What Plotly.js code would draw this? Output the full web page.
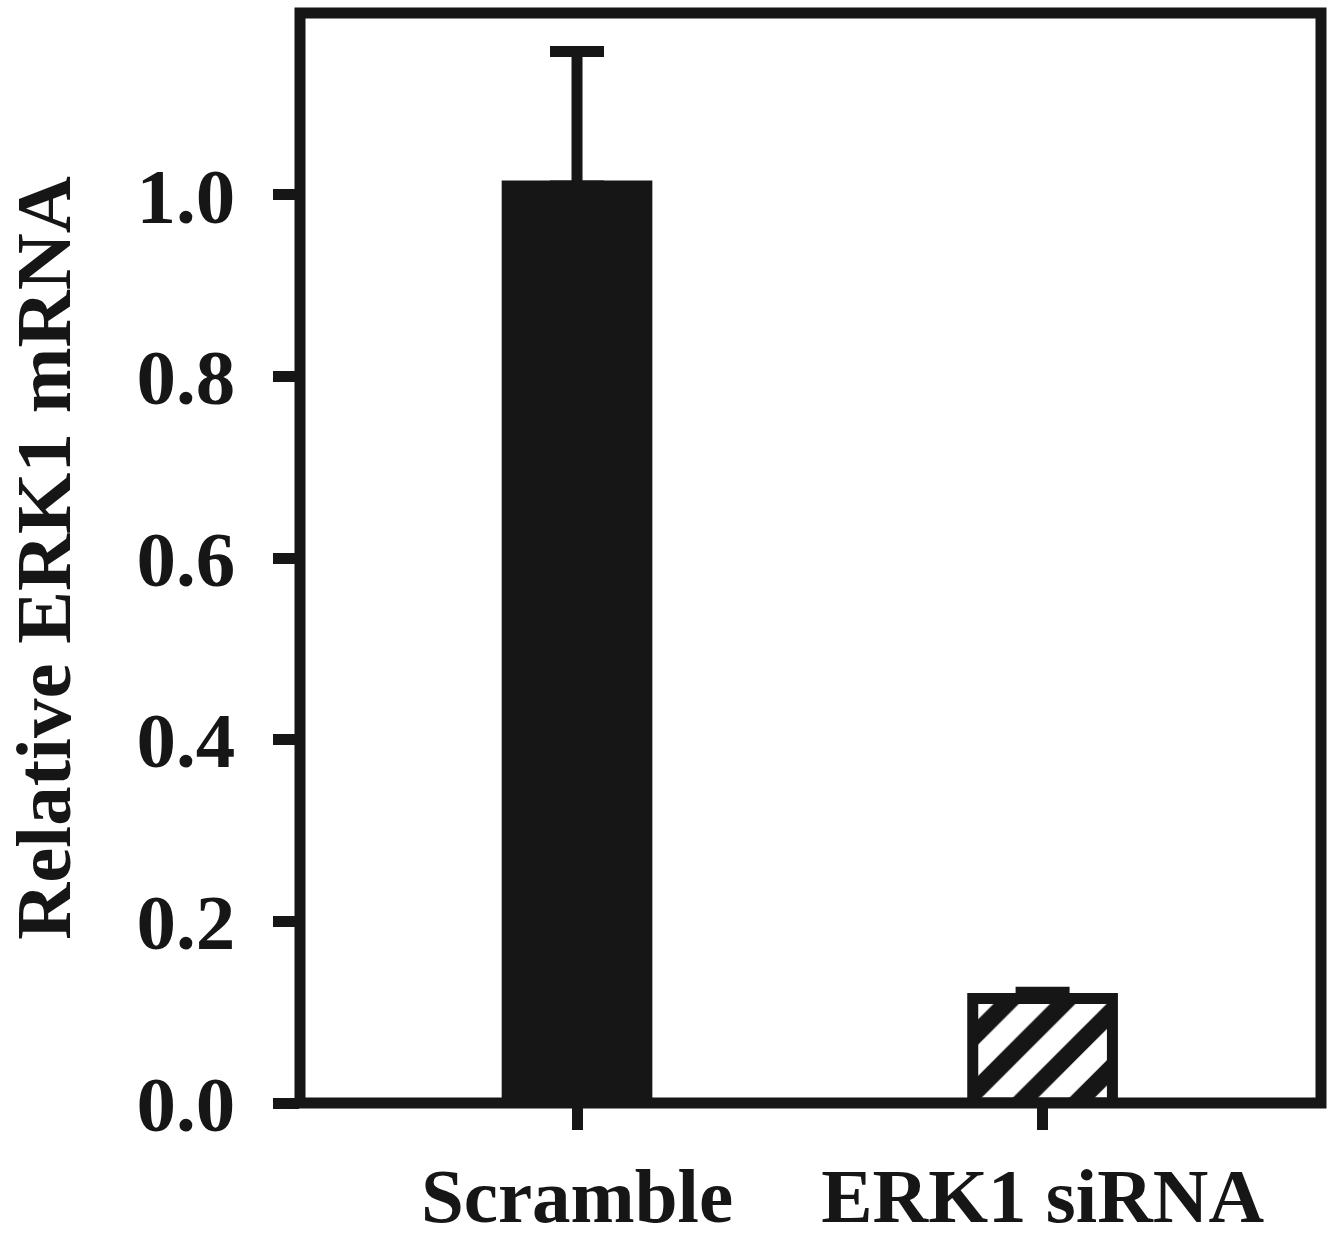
<!DOCTYPE html>
<html>
<head>
<meta charset="utf-8">
<script src="https://cdn.plot.ly/plotly-3.0.1.min.js"></script>
<style>html,body{margin:0;padding:0;background:#fff;}#chart{width:1334px;height:1243px;}</style>
</head>
<body>
<div id="chart"></div>
<script>
const categories = ["Scramble", "ERK1 siRNA"];
const values = [1.01, 0.115];
const errorsUp = [0.148, 0.007];
const yTickVals = [0.0, 0.2, 0.4, 0.6, 0.8, 1.0];
const yTickText = ["0.0", "0.2", "0.4", "0.6", "0.8", "1.0"];
const yTitle = "Relative ERK1 mRNA";

const INK = "#161616";
const FONT = {family: "Liberation Serif, Times New Roman, serif", size: 79, color: INK, weight: "bold"};
const XFONT = {family: "Liberation Serif, Times New Roman, serif", size: 77, color: INK, weight: "bold"};

function barTrace(i, pattern) {
  return {
    type: "bar",
    x: [categories[i]],
    y: [values[i]],
    width: 0.30,
    marker: {
      color: pattern ? "#ffffff" : INK,
      line: {color: INK, width: 11},
      pattern: pattern ? {shape: "/", fgcolor: INK, fgopacity: 1, bgcolor: "#ffffff", size: 40, solidity: 0.45, fillmode: "overlay"} : undefined
    },
    error_y: {
      type: "data",
      symmetric: false,
      array: [errorsUp[i]],
      arrayminus: [0],
      color: INK,
      thickness: 11,
      width: 27
    },
    hoverinfo: "none"
  };
}

const traces = [barTrace(0, false), barTrace(1, true)];

const layout = {
  width: 1334,
  height: 1243,
  margin: {l: 300, r: 13, t: 13, b: 140},
  paper_bgcolor: "#ffffff",
  plot_bgcolor: "#ffffff",
  showlegend: false,
  barmode: "overlay",
  xaxis: {
    type: "category",
    range: [-0.595, 1.598],
    showline: false,
    showgrid: false,
    zeroline: false,
    ticks: "outside",
    ticklen: 26,
    tickwidth: 11,
    tickcolor: INK,
    tickfont: XFONT,
    ticklabelstandoff: 0
  },
  yaxis: {
    range: [0, 1.2004],
    showline: false,
    showgrid: false,
    zeroline: false,
    ticks: "outside",
    ticklen: 26,
    tickwidth: 11,
    tickcolor: INK,
    tickvals: yTickVals,
    ticktext: yTickText,
    tickfont: FONT,
    ticklabelstandoff: 22,
    title: {text: yTitle, font: FONT, standoff: 62}
  },
  shapes: [{
    type: "rect", xref: "paper", yref: "paper",
    x0: 0, x1: 1, y0: 0, y1: 1,
    line: {color: INK, width: 11},
    fillcolor: "rgba(0,0,0,0)",
    layer: "above"
  }]
};

Plotly.newPlot("chart", traces, layout, {staticPlot: true, displayModeBar: false});
</script>
</body>
</html>
